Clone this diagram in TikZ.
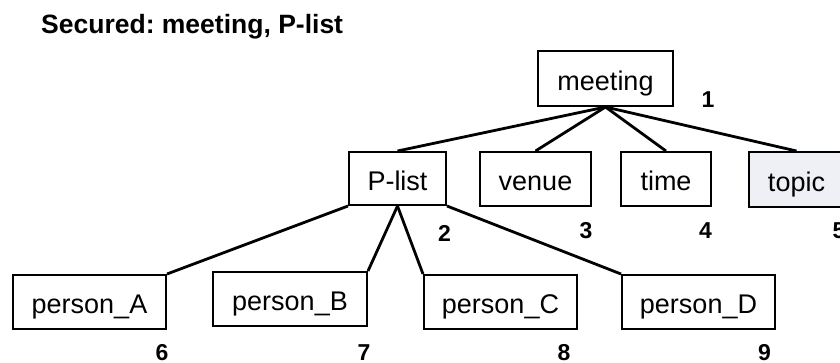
\documentclass[tikz,border=0pt]{standalone}
\usepackage{fontspec}
\setmainfont{Liberation Sans}
\frenchspacing
\definecolor{topicfill}{RGB}{238,240,246}
\tikzset{
  box/.style={draw=black, line width=2pt, inner sep=0pt,
    text height=26pt, text depth=3pt, font=\fontsize{27}{30}\selectfont},
  link/.style={line width=2.8pt},
  num/.style={inner sep=0pt, font=\fontsize{23}{26}\selectfont\bfseries},
}
\begin{document}
\begin{tikzpicture}[x=1pt, y=-1pt]
  \useasboundingbox (0,0) rectangle (840,362);
  \clip (0,0) rectangle (840,362);
  \fill[white] (0,0) rectangle (840,362);

  % heading
  \node[anchor=base west, inner sep=0pt, font=\fontsize{26.5}{30}\selectfont\bfseries]
    (title) at (41,33) {Secured: meeting, P-list};

  % tree nodes
  \node[box, minimum width=135pt, minimum height=55pt] (meeting) at (605.5,78.5) {meeting};
  \node[box, minimum width=97pt,  minimum height=53pt] (plist)   at (397.5,178.5) {P-list};
  \node[box, minimum width=111pt, minimum height=54pt] (venue)   at (535.5,179) {venue};
  \node[box, minimum width=90pt,  minimum height=54pt] (time)    at (666,179) {time};
  \node[box, fill=topicfill, minimum width=95pt, minimum height=55pt] (topic) at (796.5,179.5) {topic};
  \node[box, minimum width=153pt, minimum height=54pt] (pA) at (89.5,302) {person\_A};
  \node[box, minimum width=154pt, minimum height=54pt] (pB) at (290,299) {person\_B};
  \node[box, minimum width=153pt, minimum height=54pt] (pC) at (500.5,302) {person\_C};
  \node[box, minimum width=153pt, minimum height=54pt] (pD) at (698.5,302) {person\_D};

  % connectors
  \draw[link] (meeting.south) -- (plist.north);
  \draw[link] (meeting.south) -- (venue.north);
  \draw[link] (meeting.south) -- (time.north);
  \draw[link] (meeting.south) -- (topic.north);
  \draw[link] (plist.south west) -- (pA.north east);
  \draw[link] (plist.south) -- (pB.north east);
  \draw[link] (plist.south) -- (pC.north west);
  \draw[link] (plist.south east) -- (pD.north west);

  % node numbers
  \node[num] (n1) at (708,100) {1};
  \node[num] (n2) at (444.5,233.5) {2};
  \node[num] (n3) at (586,231) {3};
  \node[num] (n4) at (705.5,231) {4};
  \node[num] (n5) at (839,231) {5};
  \node[num] (n6) at (162,352.5) {6};
  \node[num] (n7) at (364,352.5) {7};
  \node[num] (n8) at (564,352.5) {8};
  \node[num] (n9) at (764.5,352.5) {9};
\end{tikzpicture}
\end{document}
